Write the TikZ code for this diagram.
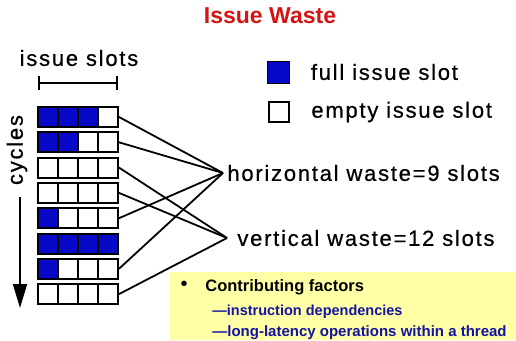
\documentclass[tikz,border=0pt]{standalone}
\usepackage{fontspec}
\setmainfont{Liberation Sans}
\newfontfamily\scanfont[LetterSpace=8,FakeBold=0.6]{Liberation Sans}
\usetikzlibrary{arrows.meta,positioning}
\definecolor{slotblue}{RGB}{8,8,200}
\definecolor{titlered}{RGB}{210,20,20}
\definecolor{notebg}{RGB}{255,255,165}
\definecolor{noteblue}{RGB}{20,20,160}

\begin{document}
\begin{tikzpicture}[x=1pt,y=-1pt,thick,
    slot/.style={draw,line width=2pt,minimum size=20pt,inner sep=0pt},
    full/.style={slot,fill=slotblue},
    empty/.style={slot,fill=white},
    scan/.style={font=\scanfont\fontsize{22}{26}\selectfont,inner sep=0pt},
    wire/.style={line width=1.8pt}]
  \useasboundingbox (0,0) rectangle (516,340);
  \node[font=\bfseries\fontsize{23}{26}\selectfont,text=titlered] (title) at (270,16) {Issue Waste};

  % slot grid, number of full slots per cycle
  \foreach \n [count=\r] in {3,2,0,0,1,4,1,0}
    \foreach \c in {1,...,4} {
      \ifnum\c>\n \def\kind{empty}\else\def\kind{full}\fi
      \node[\kind] (s\r\c) at ({28+20*\c},{117+25.3*(\r-1)}) {};
    }

  % issue slots bracket
  \coordinate (bl) at (38,83);
  \coordinate (br) at (118,83);
  \draw[line width=1.8pt,{Bar[width=14pt]}-{Bar[width=14pt]}] (bl) -- (br);
  \node[scan] (slots) at (79,58) {issue slots};

  % cycles arrow
  \node[scan,rotate=90] (cyc) at (17,150) {cycles};
  \coordinate (ctop) at (20,197);
  \coordinate (cend) at (20,308);
  \draw[line width=1.8pt,-{Triangle[width=14pt,length=24pt]}] (ctop) -- (cend);

  % legend
  \node[full,minimum size=22pt,line width=1pt] (kfull) at (278,72) {};
  \node[scan,right=21pt of kfull] (kfullt) {full issue slot};
  \node[empty] (kempty) at (279,112) {};
  \node[scan,right=21pt of kempty] (kemptyt) {empty issue slot};

  % waste labels
  \node[scan,anchor=west] (hw) at (227,173) {horizontal waste=9 slots};
  \node[scan,anchor=west] (vw) at (237,238) {vertical waste=12 slots};
  \coordinate (hpt) at ([xshift=-4pt]hw.west);
  \coordinate (vpt) at ([xshift=-10pt]vw.west);
  \foreach \r in {1,2,5,7}
    \draw[wire] (s\r4.east) -- (hpt);
  \foreach \r in {3,4,8}
    \draw[wire] (s\r4.east) -- (vpt);

  % note box
  \fill[notebg] (170,272) rectangle (516,340);
  \node[font=\fontsize{20}{22}\selectfont,inner sep=0pt] (bul) at (184,286) {•};
  \node[anchor=west,font=\bfseries\fontsize{16.5}{18}\selectfont,inner sep=0pt] (cf) at (205,287) {Contributing factors};
  \node[anchor=west,font=\bfseries\fontsize{14.5}{17}\selectfont,text=noteblue,inner sep=0pt] (f1) at (212,312) {—instruction dependencies};
  \node[anchor=west,font=\bfseries\fontsize{15}{17}\selectfont,text=noteblue,inner sep=0pt] (f2) at (212,333) {—long-latency operations within a thread};
\end{tikzpicture}
\end{document}
